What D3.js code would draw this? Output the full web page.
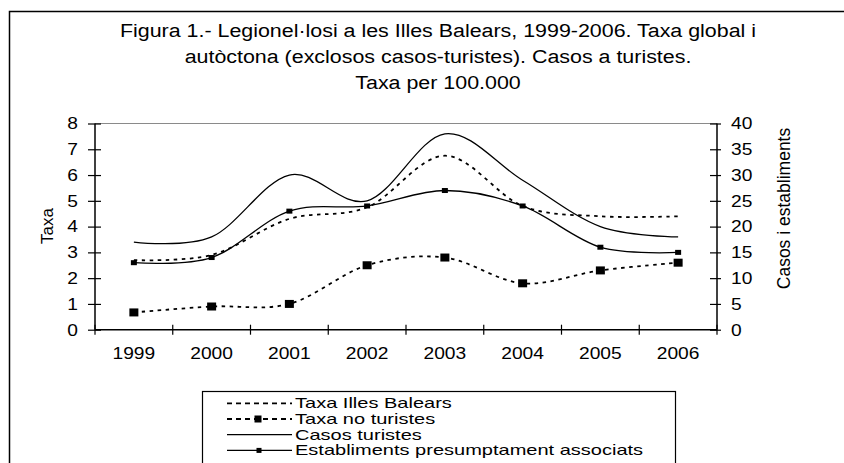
<!DOCTYPE html>
<html>
<head>
<meta charset="utf-8">
<script src="https://cdn.jsdelivr.net/npm/d3@7"></script>
<style>
  body { margin: 0; background: white; }
  text { font-family: "Liberation Sans", Arial, sans-serif; fill: #000; }
</style>
</head>
<body>
<svg class="target"></svg>
<script>

// data
years = ['1999', '2000', '2001', '2002', '2003', '2004', '2005', '2006']
taxaIllesBalears = [2.7, 2.9, 4.3, 4.75, 6.75, 4.8, 4.4, 4.4]       // left axis
taxaNoTuristes = [0.67, 0.9, 1.0, 2.5, 2.8, 1.8, 2.3, 2.6]          // left axis
casosTuristes = [17, 18, 30, 25, 38, 29, 20, 18]                    // right axis
establiments = [13, 14, 23, 24, 27, 24, 16, 15]                     // right axis

leftTicks = [0, 1, 2, 3, 4, 5, 6, 7, 8]
rightTicks = [0, 5, 10, 15, 20, 25, 30, 35, 40]

titleLines = [
  'Figura 1.- Legionel\u00B7losi a les Illes Balears, 1999-2006. Taxa global i',
  'aut\u00F2ctona (exclosos casos-turistes). Casos a turistes.',
  'Taxa per 100.000'
]
legendNames = ['Taxa Illes Balears', 'Taxa no turistes', 'Casos turistes',
               'Establiments presumptament associats']

width = 844
height = 463
stretch = 1.2   // the original picture is wider than tall, text looks stretched

svg = d3.select('.target')
      .attr('width', width)
      .attr('height', height)

// outer frame (runs off the right and bottom edge)
svg.append('rect')
    .attr('x', 9.5).attr('y', 11.5)
    .attr('width', 900).attr('height', 500)
    .style('fill', 'none').style('stroke', '#000').style('stroke-width', 1.5)

// title
svg.selectAll('.title')
    .data(titleLines)
    .join('text')
      .attr('class', 'title')
      .attr('transform', (d, i) => `translate(438,${37 + 26 * i}) scale(1.19,1)`)
      .attr('text-anchor', 'middle')
      .style('font-size', '18px')
      .text(d => d)

x = d3.scaleBand().domain(years).range([95, 717])
yL = d3.scaleLinear().domain([0, 8]).range([329.7, 123.5])
yR = d3.scaleLinear().domain([0, 40]).range([329.7, 123.5])
cx = d => x(d) + x.bandwidth() / 2

// top border of the plot area
svg.append('line')
    .attr('x1', 95).attr('x2', 717)
    .attr('y1', yL(8)).attr('y2', yL(8))
    .style('stroke', '#8a8a8a').style('stroke-width', 1)

// left axis
gl = svg.append('g').attr('transform', 'translate(95,0)')
    .call(d3.axisLeft(yL).tickValues(leftTicks).tickSize(7).tickFormat(''))
gl.select('.domain').remove()
gl.selectAll('.tick line').attr('x2', -7).attr('x1', 6).style('stroke', '#000').style('stroke-width', 1.2)
gl.append('line').attr('y1', yL(0)).attr('y2', yL(8)).style('stroke', '#000').style('stroke-width', 1.5)

svg.selectAll('.ltick')
    .data(leftTicks)
    .join('text')
      .attr('class', 'ltick')
      .attr('transform', d => `translate(78,${yL(d) + 5.8}) scale(${stretch},1)`)
      .attr('text-anchor', 'end')
      .style('font-size', '16px')
      .text(d => d)

// right axis
gr = svg.append('g').attr('transform', 'translate(717,0)')
    .call(d3.axisRight(yR).tickValues(rightTicks).tickSize(4).tickFormat(''))
gr.select('.domain').remove()
gr.selectAll('.tick line').attr('x1', -7).attr('x2', 4).style('stroke', '#000').style('stroke-width', 1.2)
gr.append('line').attr('y1', yR(0)).attr('y2', yR(40)).style('stroke', '#000').style('stroke-width', 1.5)

svg.selectAll('.rtick')
    .data(rightTicks)
    .join('text')
      .attr('class', 'rtick')
      .attr('transform', d => `translate(731,${yR(d) + 5.8}) scale(${stretch},1)`)
      .style('font-size', '16px')
      .text(d => d)

// x axis, ticks on the category boundaries
svg.append('line')
    .attr('x1', 95).attr('x2', 717)
    .attr('y1', yL(0)).attr('y2', yL(0))
    .style('stroke', '#000').style('stroke-width', 1.5)

bounds = years.map(d => x(d)).concat([x.range()[1]])
svg.selectAll('.xtickline')
    .data(bounds)
    .join('line')
      .attr('class', 'xtickline')
      .attr('x1', d => d).attr('x2', d => d)
      .attr('y1', yL(0) - 5).attr('y2', yL(0) + 5)
      .style('stroke', '#000').style('stroke-width', 1.2)

svg.selectAll('.xtick')
    .data(years)
    .join('text')
      .attr('class', 'xtick')
      .attr('transform', d => `translate(${cx(d)},359) scale(${stretch},1)`)
      .attr('text-anchor', 'middle')
      .style('font-size', '16px')
      .text(d => d)

// axis titles
svg.append('text')
    .attr('transform', 'translate(53,226) rotate(-90)')
    .attr('text-anchor', 'middle')
    .style('font-size', '17px')
    .text('Taxa')

svg.append('text')
    .attr('transform', 'translate(790,208.5) rotate(-90)')
    .attr('text-anchor', 'middle')
    .style('font-size', '17.5px')
    .text('Casos i establiments')

// smoothed lines like the spreadsheet ones
smooth = d3.curveCardinal.tension(0)
lineL = d3.line().x((d, i) => cx(years[i])).y(d => yL(d)).curve(smooth)
lineR = d3.line().x((d, i) => cx(years[i])).y(d => yR(d)).curve(smooth)

svg.append('path').attr('d', lineR(casosTuristes))
    .style('fill', 'none').style('stroke', '#000').style('stroke-width', 1.3)
svg.append('path').attr('d', lineR(establiments))
    .style('fill', 'none').style('stroke', '#000').style('stroke-width', 1.3)
svg.append('path').attr('d', lineL(taxaIllesBalears))
    .style('fill', 'none').style('stroke', '#000').style('stroke-width', 1.8)
    .style('stroke-dasharray', '3.5,4.5')
svg.append('path').attr('d', lineL(taxaNoTuristes))
    .style('fill', 'none').style('stroke', '#000').style('stroke-width', 1.8)
    .style('stroke-dasharray', '3.5,4.5')

// markers
svg.selectAll('.mNo')
    .data(taxaNoTuristes)
    .join('rect')
      .attr('class', 'mNo')
      .attr('x', (d, i) => cx(years[i]) - 4.5)
      .attr('y', d => yL(d) - 4)
      .attr('width', 9).attr('height', 8)
      .style('fill', '#000')

svg.selectAll('.mEst')
    .data(establiments)
    .join('rect')
      .attr('class', 'mEst')
      .attr('x', (d, i) => cx(years[i]) - 3)
      .attr('y', d => yR(d) - 2.5)
      .attr('width', 6).attr('height', 5)
      .style('fill', '#000')

// legend
legend = svg.append('g')
legend.append('rect')
    .attr('x', 202.5).attr('y', 391.5)
    .attr('width', 473).attr('height', 100)
    .style('fill', 'white').style('stroke', '#000').style('stroke-width', 1.2)

rows = legendNames.map((name, i) => ({ name: name, y: 403.3 + 15.7 * i }))
legend.selectAll('.lsample')
    .data(rows)
    .join('line')
      .attr('class', 'lsample')
      .attr('x1', 227).attr('x2', 292)
      .attr('y1', d => d.y).attr('y2', d => d.y)
      .style('stroke', '#000')
      .style('stroke-width', (d, i) => i < 2 ? 1.8 : 1.3)
      .style('stroke-dasharray', (d, i) => i < 2 ? '5,4' : null)

legend.append('rect')
    .attr('x', 254.5).attr('y', rows[1].y - 3.5).attr('width', 7).attr('height', 7)
    .style('fill', '#000')
legend.append('rect')
    .attr('x', 256.5).attr('y', rows[3].y - 2.5).attr('width', 5).attr('height', 5)
    .style('fill', '#000')

legend.selectAll('.ltext')
    .data(rows)
    .join('text')
      .attr('class', 'ltext')
      .attr('transform', d => `translate(295,${d.y + 5}) scale(1.43,1)`)
      .style('font-size', '14px')
      .text(d => d.name)

</script>
</body>
</html>
